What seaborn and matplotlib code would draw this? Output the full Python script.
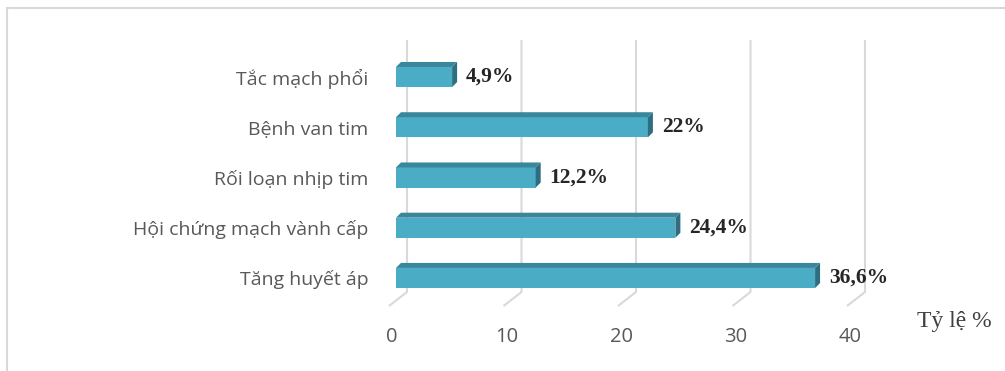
import matplotlib
matplotlib.use("Agg")
import matplotlib.pyplot as plt
import matplotlib.transforms as mtransforms
from matplotlib.patches import Polygon, Rectangle
import seaborn as sns
import numpy as np

# Data
categories = ["Tắc mạch phổi", "Bệnh van tim", "Rối loạn nhịp tim",
              "Hội chứng mạch vành cấp", "Tăng huyết áp"]
values = [4.9, 22.0, 12.2, 24.4, 36.6]
value_labels = ["4,9%", "22%", "12,2%", "24,4%", "36,6%"]
x_ticks = [0, 10, 20, 30, 40]
x_title = "Tỷ lệ %"

sns.set_style("white")
plt.rcParams["font.family"] = ["Open Sans", "DejaVu Sans"]

W, H, DPI = 1005, 371, 100
fig = plt.figure(figsize=(W / DPI, H / DPI), dpi=DPI)

# axes placed in pixel terms: x=0 at 396 px, x=40 at 854 px; rows 77..278 px from top
left_px, right_px = 396, 854
top_px, bot_px = 51.9, 303.1
ax = fig.add_axes([left_px / W, 1 - bot_px / H, (right_px - left_px) / W, (bot_px - top_px) / H])

front = "#4BACC6"
top_c = "#3A879C"
side_c = "#2D6E80"
grid_c = "#D9D9D9"
text_gray = "#595959"

sns.barplot(x=values, y=categories, orient="h", color=front, width=0.4,
            saturation=1, linewidth=0, ax=ax, zorder=3)

ax.set_xlim(0, 40)
ax.set_ylim(4.5, -0.5)
for s in ax.spines.values():
    s.set_visible(False)
ax.set_xlabel("")
ax.set_ylabel("")
ax.grid(False)

fig.canvas.draw()
to_disp = ax.transData
to_data = ax.transData.inverted()

def px_to_data(pts):
    return to_data.transform(np.asarray(pts))

# back-wall gridlines with a receding floor stroke
depth_dx = 11
grid_top = H - 40
grid_bot = H - 292
for v in x_ticks:
    xd, _ = to_disp.transform((v, 0))
    xg = xd + depth_dx
    pts = px_to_data([(xg, grid_top), (xg, grid_bot), (xg - 18, grid_bot - 14)])
    ax.plot(pts[:, 0], pts[:, 1], color=grid_c, lw=1.5, zorder=0, clip_on=False,
            solid_capstyle="butt")

# extruded top and side faces of each bar
dx, dy = 5, 5
for p in ax.patches:
    x0, y0 = p.get_x(), p.get_y()
    w, h = p.get_width(), p.get_height()
    (ax0, ay0), (ax1, ay1) = to_disp.transform([(x0, y0), (x0 + w, y0 + h)])
    xl, xr = min(ax0, ax1), max(ax0, ax1)
    yb, yt = min(ay0, ay1), max(ay0, ay1)
    topface = px_to_data([(xl, yt), (xr, yt), (xr + dx, yt + dy), (xl + dx, yt + dy)])
    sideface = px_to_data([(xr, yb), (xr, yt), (xr + dx, yt + dy), (xr + dx, yb + dy)])
    ax.add_patch(Polygon(topface, closed=True, facecolor=top_c, edgecolor="none",
                         zorder=3, clip_on=False))
    ax.add_patch(Polygon(sideface, closed=True, facecolor=side_c, edgecolor="none",
                         zorder=3, clip_on=False))

# value labels
label_off = mtransforms.offset_copy(ax.transData, fig=fig, x=14, y=0, units="dots")
for i, (v, lab) in enumerate(zip(values, value_labels)):
    ax.text(v, i, lab, transform=label_off, ha="left", va="center",
            fontsize=15.5, fontweight="bold", family="Liberation Serif",
            color="#262626", zorder=5)

# category and value-axis tick labels
ax.tick_params(axis="y", length=0, pad=20, labelsize=14, labelcolor=text_gray)
ax.tick_params(axis="x", length=0, pad=17, labelsize=14.5, labelcolor=text_gray)
ax.set_xticks(x_ticks)
ax.set_xticklabels([str(t) for t in x_ticks])
shift = mtransforms.ScaledTranslation(-4 / DPI, 0, fig.dpi_scale_trans)
for lab in ax.get_xticklabels():
    lab.set_transform(lab.get_transform() + shift)

fig.text(917 / W, 1 - 322 / H, x_title, ha="left", va="center",
         fontsize=17, family="Liberation Serif", color="#3F3F3F")

# outer frame
fig.add_artist(Rectangle((7 / W, -0.2), 1.2, 1 - 8 / H + 0.2, transform=fig.transFigure,
                         fill=False, edgecolor=grid_c, lw=1.5))

fig.savefig("out.png", dpi=DPI, facecolor="white")
